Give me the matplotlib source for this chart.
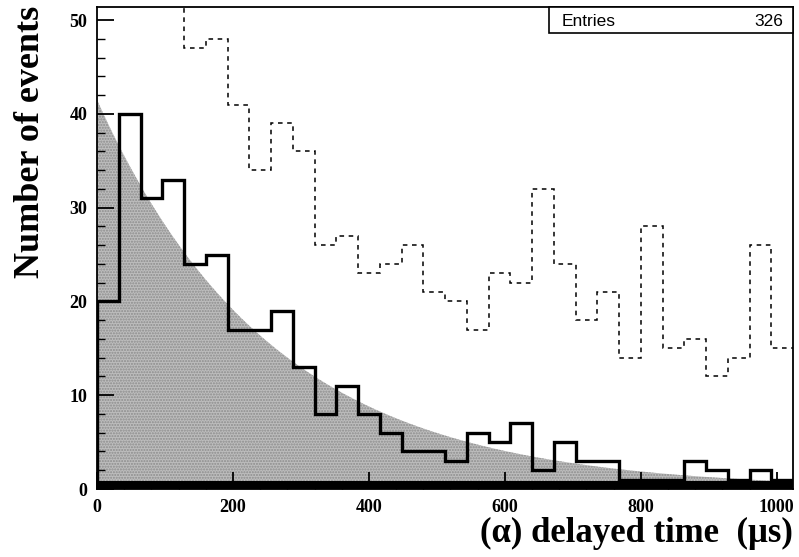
import numpy as np
import matplotlib
matplotlib.use("Agg")
import matplotlib.pyplot as plt
from matplotlib.ticker import MultipleLocator

# ---- data ----
bin_edges_us = list(range(0, 1025, 32))          # 32 bins of 32 us
signal_counts = [20, 40, 31, 33, 24, 25, 17, 17, 19, 13, 8, 11, 8, 6, 4, 4,
                 3, 6, 5, 7, 2, 5, 3, 3, 1, 1, 1, 3, 2, 1, 2, 1]
dashed_counts = [75, 68, 60, 55, 47, 48, 41, 34, 39, 36, 26, 27, 23, 24, 26, 21,
                 20, 17, 23, 22, 32, 24, 18, 21, 14, 28, 15, 16, 12, 14, 26, 15]
background_counts = [0.9, 0.9, 0.9, 0.9, 0.9, 0.9, 0.9, 0.9, 0.9, 0.9, 0.9, 0.9,
                     0.9, 0.9, 0.9, 0.9, 0.9, 0.9, 0.9, 0.9, 0.9, 0.9, 0.9, 0.9,
                     0.9, 0.9, 0.9, 0.9, 0.9, 0.9, 0.9, 0.9]
fit_amplitude = 41.5     # events at t = 0
fit_tau_us = 258.0       # decay constant of the fitted exponential
entries = 326
x_ticks = [0, 200, 400, 600, 800, 1000]
y_ticks = [0, 10, 20, 30, 40, 50]

# ---- figure ----
fig = plt.figure(figsize=(7.99, 5.57), dpi=100)
ax = fig.add_axes([97 / 799, (557 - 489) / 557, (793 - 97) / 799, (489 - 7) / 557])

edges = np.array(bin_edges_us, dtype=float)
t = np.linspace(edges[0], edges[-1], 600)
fit = fit_amplitude * np.exp(-t / fit_tau_us)
ax.fill_between(t, 0, fit, facecolor="#bdbdbd", edgecolor="none", zorder=1)
ax.fill_between(t, 0, fit, facecolor="none", edgecolor="#8c8c8c",
                hatch="......", linewidth=0, zorder=1)

ax.stairs(background_counts, edges, fill=True, color="black", zorder=2)
ax.stairs(signal_counts, edges, color="black", linewidth=2.4, zorder=3)
ax.stairs(dashed_counts, edges, color="black", linewidth=1.1,
          linestyle=(0, (3, 3)), baseline=None, zorder=3)

ax.set_xlim(0, 1024)
ax.set_ylim(0, 51.4)

serif = ["Liberation Serif", "DejaVu Serif"]
ax.set_xticks(x_ticks)
ax.set_yticks(y_ticks)
ax.xaxis.set_minor_locator(MultipleLocator(40))
ax.yaxis.set_minor_locator(MultipleLocator(2))
ax.tick_params(which="both", direction="in", top=False, right=False)
ax.tick_params(which="major", length=12, width=1.3)
ax.tick_params(which="minor", length=6, width=1.0)
ax.tick_params(axis="y", pad=7)
ax.tick_params(axis="x", pad=7)
for lab in ax.get_xticklabels() + ax.get_yticklabels():
    lab.set_fontfamily(serif)
    lab.set_fontweight("bold")
    lab.set_fontsize(13)

for sp in ax.spines.values():
    sp.set_linewidth(1.3)

ax.set_ylabel("Number of events", fontfamily=serif, fontweight="bold",
              fontsize=26)
ax.yaxis.set_label_coords(-(97 - 47) / 696, (489 - 142) / 482)
fig.text(793 / 799, 1 - 533 / 557, "(α) delayed time  (μs)", ha="right",
         va="center", fontfamily=serif, fontweight="bold", fontsize=25)

# statistics box
box_x0 = 549 / 799
box_y0 = 1 - 33 / 557
box_w = (793 - 549) / 799
box_h = (33 - 7) / 557
fig.patches.append(plt.Rectangle((box_x0, box_y0), box_w, box_h,
                                 transform=fig.transFigure, facecolor="white",
                                 edgecolor="black", linewidth=1.2, zorder=5))
fig.text(562 / 799, 1 - 21 / 557, "Entries", ha="left", va="center",
         fontfamily="Liberation Sans", fontsize=12.5, zorder=6)
fig.text(783 / 799, 1 - 21 / 557, str(entries), ha="right", va="center",
         fontfamily="Liberation Sans", fontsize=12.5, zorder=6)

fig.savefig("out.png", dpi=100)
